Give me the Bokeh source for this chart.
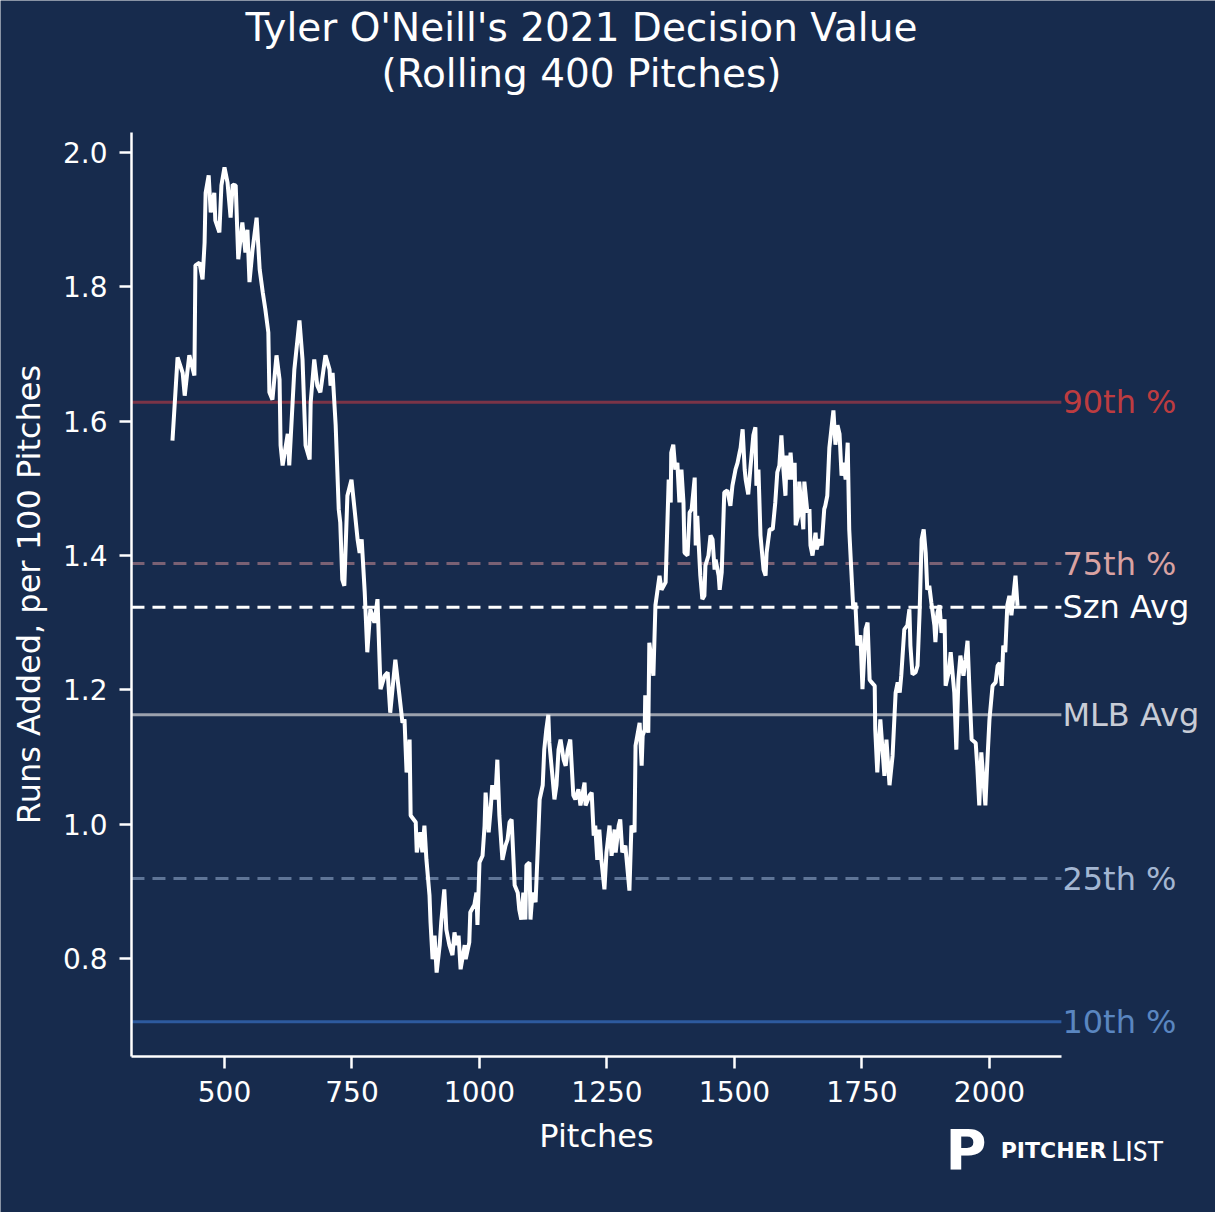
from bokeh.embed import file_html
from bokeh.resources import INLINE
from bokeh.plotting import figure
from bokeh.models import Range1d, FixedTicker, PrintfTickFormatter, Label

# rolling 400-pitch decision value
pitches = [
    398, 408, 418, 422, 427, 431, 441, 443, 451, 457,
    461, 463, 469, 473, 480, 482, 490, 494, 500, 506,
    512, 516, 522, 527, 535, 541, 545, 549, 555, 563,
    569, 575, 580, 586, 588, 594, 602, 608, 610, 614,
    624, 627, 637, 647, 653, 659, 667, 669, 676, 682,
    688, 698, 706, 708, 712, 718, 724, 727, 731, 735,
    741, 749, 755, 761, 765, 769, 775, 780, 786, 794,
    800, 806, 814, 820, 825, 835, 843, 849, 853, 857,
    863, 865, 875, 877, 884, 888, 892, 896, 902, 904,
    908, 912, 916, 922, 925, 931, 935, 941, 947, 951,
    955, 959, 963, 971, 973, 980, 982, 990, 994, 996,
    1000, 1006, 1010, 1012, 1018, 1022, 1025, 1031, 1035, 1039,
    1045, 1051, 1055, 1059, 1063, 1069, 1075, 1078, 1082, 1086,
    1090, 1092, 1098, 1100, 1104, 1110, 1114, 1118, 1124, 1127,
    1131, 1135, 1137, 1143, 1147, 1151, 1155, 1159, 1165, 1169,
    1173, 1178, 1184, 1188, 1194, 1198, 1206, 1208, 1216, 1220,
    1224, 1227, 1231, 1235, 1239, 1245, 1249, 1255, 1259, 1265,
    1267, 1273, 1276, 1280, 1286, 1294, 1298, 1304, 1306, 1314,
    1318, 1320, 1324, 1325, 1331, 1333, 1341, 1345, 1353, 1357,
    1365, 1371, 1375, 1376, 1380, 1384, 1388, 1392, 1396, 1400,
    1402, 1408, 1412, 1416, 1422, 1424, 1427, 1433, 1437, 1441,
    1443, 1449, 1453, 1457, 1461, 1463, 1469, 1471, 1475, 1480,
    1486, 1492, 1496, 1502, 1506, 1510, 1512, 1516, 1520, 1522,
    1527, 1531, 1537, 1541, 1543, 1547, 1551, 1557, 1561, 1563,
    1569, 1575, 1580, 1584, 1588, 1592, 1596, 1600, 1602, 1606,
    1610, 1614, 1618, 1620, 1625, 1627, 1631, 1635, 1637, 1643,
    1647, 1649, 1653, 1659, 1661, 1667, 1671, 1676, 1678, 1682,
    1686, 1690, 1694, 1698, 1702, 1706, 1710, 1714, 1718, 1722,
    1725, 1729, 1733, 1737, 1741, 1747, 1751, 1757, 1761, 1765,
    1769, 1775, 1776, 1780, 1786, 1794, 1798, 1804, 1810, 1816,
    1820, 1824, 1827, 1833, 1839, 1843, 1845, 1849, 1855, 1859,
    1863, 1867, 1871, 1875, 1878, 1882, 1886, 1892, 1894, 1898,
    1902, 1906, 1912, 1914, 1920, 1924, 1927, 1931, 1935, 1939,
    1943, 1949, 1953, 1957, 1961, 1965, 1973, 1976, 1980, 1984,
    1992, 1996, 2000, 2006, 2012, 2016, 2020, 2024, 2027, 2031,
    2035, 2039, 2043, 2047, 2051, 2055,
]
runs = [
    1.571, 1.695, 1.672, 1.638, 1.672, 1.698, 1.668, 1.832, 1.836, 1.811,
    1.866, 1.940, 1.966, 1.911, 1.940, 1.899, 1.881, 1.951, 1.978, 1.955,
    1.903, 1.952, 1.951, 1.841, 1.896, 1.851, 1.885, 1.807, 1.855, 1.903,
    1.826, 1.792, 1.767, 1.732, 1.643, 1.632, 1.698, 1.662, 1.564, 1.534,
    1.581, 1.534, 1.677, 1.750, 1.692, 1.564, 1.543, 1.628, 1.692, 1.653,
    1.643, 1.698, 1.677, 1.653, 1.672, 1.594, 1.469, 1.449, 1.364, 1.355,
    1.489, 1.513, 1.469, 1.424, 1.404, 1.424, 1.345, 1.256, 1.320, 1.300,
    1.335, 1.201, 1.221, 1.226, 1.166, 1.245, 1.192, 1.151, 1.156, 1.077,
    1.126, 1.013, 1.003, 0.958, 0.988, 0.958, 0.998, 0.947, 0.894, 0.854,
    0.799, 0.834, 0.779, 0.820, 0.854, 0.903, 0.843, 0.820, 0.805, 0.839,
    0.820, 0.834, 0.784, 0.820, 0.799, 0.824, 0.869, 0.880, 0.898, 0.850,
    0.943, 0.953, 0.998, 1.047, 0.988, 1.023, 1.058, 1.037, 1.096, 1.013,
    0.947, 0.968, 0.977, 1.003, 1.007, 0.909, 0.898, 0.873, 0.858, 0.898,
    0.858, 0.939, 0.943, 0.858, 0.898, 0.884, 0.958, 1.037, 1.058, 1.111,
    1.141, 1.163, 1.121, 1.072, 1.037, 1.058, 1.111, 1.126, 1.096, 1.087,
    1.111, 1.126, 1.043, 1.037, 1.052, 1.028, 1.062, 1.028, 1.043, 1.047,
    0.983, 0.998, 0.947, 0.992, 0.947, 0.903, 0.958, 0.998, 0.953, 0.992,
    0.958, 0.998, 1.007, 0.958, 0.968, 0.901, 0.998, 0.988, 1.117, 1.151,
    1.087, 1.132, 1.141, 1.192, 1.136, 1.270, 1.221, 1.326, 1.370, 1.349,
    1.360, 1.513, 1.479, 1.553, 1.565, 1.528, 1.538, 1.479, 1.528, 1.479,
    1.404, 1.400, 1.464, 1.469, 1.516, 1.415, 1.459, 1.370, 1.335, 1.340,
    1.385, 1.400, 1.430, 1.424, 1.379, 1.394, 1.370, 1.349, 1.375, 1.494,
    1.497, 1.474, 1.504, 1.528, 1.538, 1.553, 1.560, 1.588, 1.528, 1.513,
    1.491, 1.528, 1.579, 1.591, 1.504, 1.528, 1.430, 1.379, 1.370, 1.404,
    1.439, 1.439, 1.479, 1.524, 1.534, 1.579, 1.528, 1.489, 1.549, 1.513,
    1.553, 1.513, 1.538, 1.445, 1.459, 1.510, 1.474, 1.439, 1.510, 1.464,
    1.469, 1.415, 1.400, 1.434, 1.409, 1.424, 1.415, 1.469, 1.474, 1.489,
    1.560, 1.588, 1.616, 1.565, 1.594, 1.581, 1.519, 1.538, 1.513, 1.568,
    1.439, 1.379, 1.320, 1.330, 1.266, 1.281, 1.201, 1.290, 1.300, 1.215,
    1.211, 1.206, 1.141, 1.077, 1.156, 1.072, 1.126, 1.058, 1.102, 1.196,
    1.211, 1.196, 1.221, 1.290, 1.296, 1.320, 1.266, 1.223, 1.226, 1.236,
    1.315, 1.424, 1.439, 1.404, 1.349, 1.355, 1.330, 1.296, 1.271, 1.315,
    1.326, 1.285, 1.305, 1.206, 1.226, 1.256, 1.230, 1.196, 1.111, 1.215,
    1.251, 1.221, 1.245, 1.273, 1.196, 1.126, 1.121, 1.087, 1.028, 1.107,
    1.028, 1.096, 1.156, 1.206, 1.211, 1.236, 1.240, 1.206, 1.266, 1.256,
    1.326, 1.340, 1.311, 1.340, 1.370, 1.325,
]

# reference lines
ref_names = ["90th %", "75th %", "Szn Avg", "MLB Avg", "25th %", "10th %"]
ref_values = [1.628, 1.388, 1.323, 1.163, 0.919, 0.706]
ref_line_colors = ["#7b3447", "#7a6174", "#ffffff", "#9ca2ae", "#5f7597", "#2d5a9e"]
ref_text_colors = ["#bd3c40", "#d9a2a2", "#ffffff", "#c8ccd6", "#a3b6d2", "#5a86c0"]
ref_dashes = ["solid", "13 8", "13 8", "solid", "13 8", "solid"]

x_ticks = [500, 750, 1000, 1250, 1500, 1750, 2000]
y_ticks = [0.8, 1.0, 1.2, 1.4, 1.6, 1.8, 2.0]

# axes box (data units); the frame covers the whole canvas
X0, X1 = 317.6, 2141
Y0, Y1 = 0.654, 2.030

BG = "#172b4d"
FONT = "DejaVu Sans"

p = figure(width=1215, height=1212, output_backend="svg", toolbar_location=None,
           x_range=Range1d(60.8, 2443.2), y_range=Range1d(0.4219, 2.2263),
           min_border=0)
p.background_fill_color = BG
p.border_fill_color = BG
p.outline_line_color = None
p.grid.visible = False

for ax in (p.xaxis[0], p.yaxis[0]):
    ax.axis_line_color = "white"
    ax.axis_line_width = 2.5
    ax.major_tick_line_color = "white"
    ax.major_tick_line_width = 2.5
    ax.major_tick_out = 12
    ax.major_tick_in = 0
    ax.minor_tick_line_color = None
    ax.major_label_text_color = "white"
    ax.major_label_text_font = FONT
    ax.major_label_text_font_size = "28px"
    ax.major_label_standoff = 12
    ax.axis_label_text_color = "white"
    ax.axis_label_text_font = FONT
    ax.axis_label_text_font_size = "32px"
    ax.axis_label_text_font_style = "normal"
    ax.axis_label_standoff = 12

p.xaxis.fixed_location = Y0
p.yaxis.fixed_location = X0
p.xaxis.bounds = (X0, X1)
p.yaxis.bounds = (Y0, Y1)
p.xaxis.ticker = FixedTicker(ticks=x_ticks)
p.yaxis.ticker = FixedTicker(ticks=y_ticks)
p.yaxis.formatter = PrintfTickFormatter(format="%.1f")
p.xaxis.axis_label = "Pitches"
p.yaxis.axis_label = "Runs Added, per 100 Pitches"

for name, val, lc, tc, dash in zip(ref_names, ref_values, ref_line_colors,
                                   ref_text_colors, ref_dashes):
    p.line([X0, X1], [val, val], line_color=lc, line_width=3, line_dash=dash)
    p.add_layout(Label(x=X1, y=val, x_offset=1, text=name, text_color=tc,
                       text_font=FONT, text_font_size="32px",
                       text_baseline="middle", text_align="left"))

p.line(pitches, runs, line_color="white", line_width=4)

# title, two lines
p.add_layout(Label(x=1200, y=2.1854, text="Tyler O'Neill's 2021 Decision Value",
                   text_color="white", text_font=FONT, text_font_size="39px",
                   text_align="center", text_baseline="middle"))
p.add_layout(Label(x=1200, y=2.1169, text="(Rolling 400 Pitches)",
                   text_color="white", text_font=FONT, text_font_size="39px",
                   text_align="center", text_baseline="middle"))

# logo
p.add_layout(Label(x=1914, y=0.5158, text="P", text_color="white",
                   text_font=FONT, text_font_style="bold", text_font_size="56px",
                   text_baseline="middle"))
p.add_layout(Label(x=2022, y=0.5142, text="PITCHER", text_color="white",
                   text_font=FONT, text_font_style="bold", text_font_size="22px",
                   text_baseline="middle"))
p.add_layout(Label(x=2239, y=0.5142, text="LIST", text_color="white",
                   text_font="Lato", text_font_size="27px",
                   text_baseline="middle"))

open("out.html", "w").write(file_html(p, INLINE))
